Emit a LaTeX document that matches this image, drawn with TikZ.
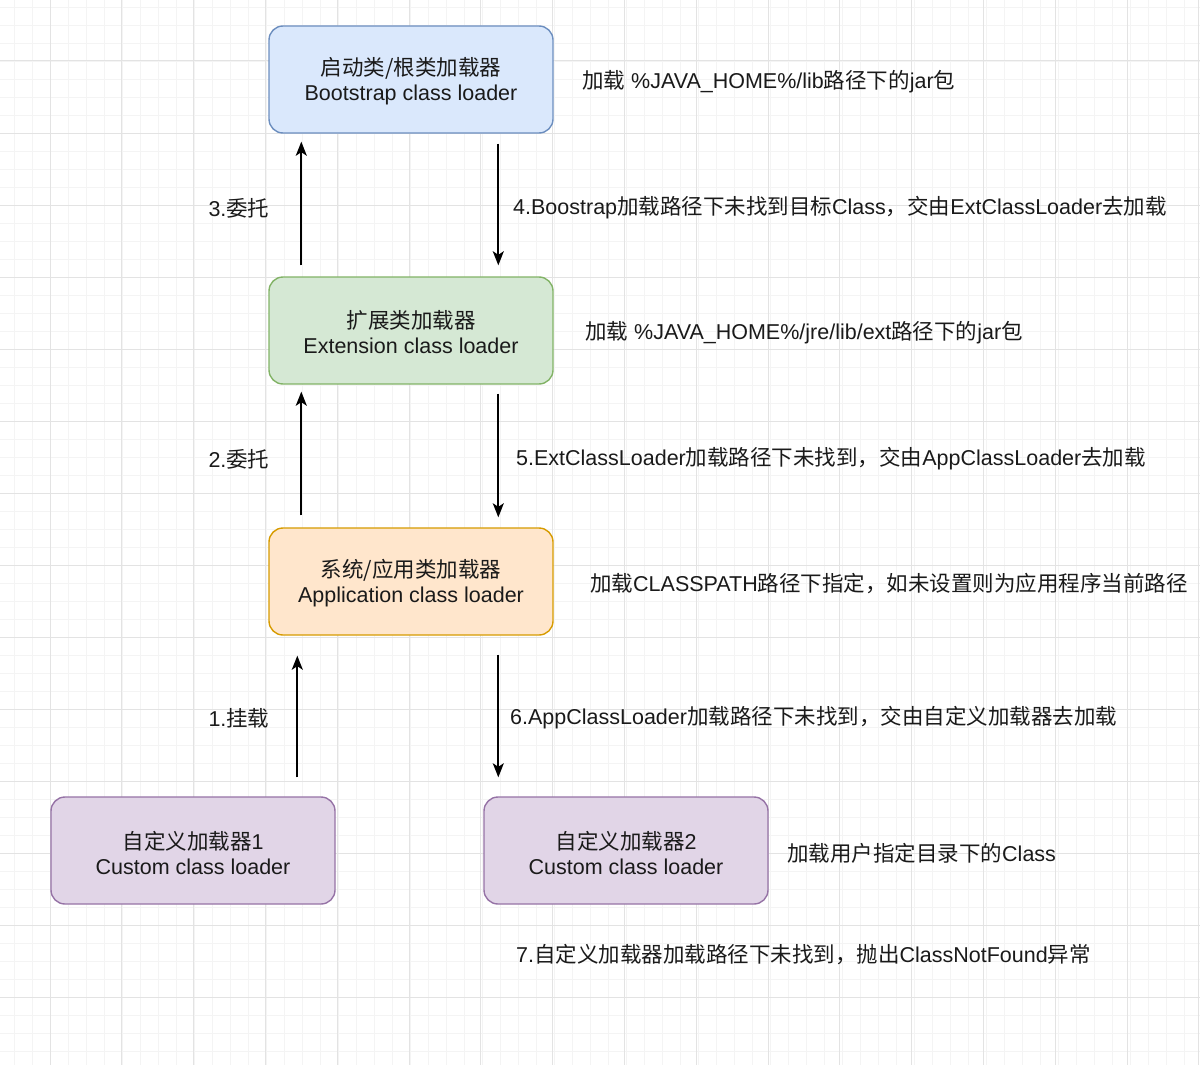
\documentclass[tikz,border=0pt]{standalone}
\usepackage{fontspec}
\setmainfont{Liberation Sans}
\newfontfamily\cjk{Noto Sans CJK SC}
\usetikzlibrary{arrows.meta,calc}
\newcommand{\zh}[1]{{\cjk #1}}
\definecolor{gridmajor}{HTML}{E3E3E3}
\definecolor{gridminor}{HTML}{F4F4F4}
\definecolor{bluef}{HTML}{DAE8FC}\definecolor{blued}{HTML}{6C8EBF}
\definecolor{greenf}{HTML}{D5E8D4}\definecolor{greend}{HTML}{82B366}
\definecolor{orangef}{HTML}{FFE6CC}\definecolor{oranged}{HTML}{D79B00}
\definecolor{purplef}{HTML}{E1D5E7}\definecolor{purpled}{HTML}{9673A6}
\definecolor{txt}{HTML}{1A1A1A}
\begin{document}
\begin{tikzpicture}[x=1pt,y=-1pt,
  every node/.style={text=txt, font=\fontsize{21.5}{25}\selectfont},
  loader/.style={draw, rounded corners=14pt, line width=1.4pt, minimum width=284pt, minimum height=107pt, inner sep=0pt},
  boxtext/.style={align=center, inner sep=0pt, yshift=-2pt},
  lbl/.style={inner sep=0pt, anchor=west},
  clbl/.style={inner sep=0pt},
  conn/.style={line width=1.9pt, -{Stealth[length=14pt,width=11pt,inset=3.5pt]}},
  minor/.style={gridminor, line width=0.8pt},
  major/.style={gridmajor, line width=1pt}]
\fill[white] (0,0) rectangle (1200,1065);
\useasboundingbox (0,0) rectangle (1200,1065);
% grid
\foreach \x in {14,32,...,1200} \draw[minor] (\x,0) -- (\x,1065);
\foreach \y in {7,25,...,1065} \draw[minor] (0,\y) -- (1200,\y);
\foreach \x in {50,121.8,...,1200} \draw[major] (\x,0) -- (\x,1065);
\foreach \y in {61,133,...,1065} \draw[major] (0,\y) -- (1200,\y);
% boxes
\node[loader, fill=bluef, draw=blued] (boot) at (411,79.5) {};
\node[boxtext] (boott) at (boot.center) {\zh{启动类/根类加载器}\\Bootstrap class loader};
\node[loader, fill=greenf, draw=greend] (ext) at (411,330.5) {};
\node[boxtext] (extt) at (ext.center) {\zh{扩展类加载器}\\Extension class loader};
\node[loader, fill=orangef, draw=oranged] (app) at (411,581.5) {};
\node[boxtext] (appt) at (app.center) {\zh{系统/应用类加载器}\\Application class loader};
\node[loader, fill=purplef, draw=purpled] (c1) at (193,850.5) {};
\node[boxtext] (c1t) at (c1.center) {\zh{自定义加载器}1\\Custom class loader};
\node[loader, fill=purplef, draw=purpled] (c2) at (626,850.5) {};
\node[boxtext] (c2t) at (c2.center) {\zh{自定义加载器}2\\Custom class loader};
% connectors
\draw[conn, shorten <=11pt, shorten >=8pt] ($(ext.north west)+(33,0)$) -- ($(boot.south west)+(33,0)$);
\draw[conn, shorten <=10pt, shorten >=11pt] ($(boot.south west)+(230,0)$) -- ($(ext.north west)+(230,0)$);
\draw[conn, shorten <=12pt, shorten >=7pt] ($(app.north west)+(33,0)$) -- ($(ext.south west)+(33,0)$);
\draw[conn, shorten <=9pt, shorten >=10pt] ($(ext.south west)+(230,0)$) -- ($(app.north west)+(230,0)$);
\draw[conn, shorten <=19pt, shorten >=20pt] ($(c1.north west)+(247,0)$) -- ($(app.south west)+(29,0)$);
\draw[conn, shorten <=19pt, shorten >=19pt] ($(app.south west)+(230,0)$) -- ($(c2.north west)+(15,0)$);
% labels
\node[clbl] (l3) at (239,208) {3.\zh{委托}};
\node[clbl] (l2) at (239,459) {2.\zh{委托}};
\node[clbl] (l1) at (239,718) {1.\zh{挂载}};
\node[lbl] (l4) at (513,208) {4.Boostrap\zh{加载路径下未找到目标}Class\zh{，交由}ExtClassLoader\zh{去加载}};
\node[lbl] (l5) at (516,459) {5.ExtClassLoader\zh{加载路径下未找到，交由}AppClassLoader\zh{去加载}};
\node[lbl] (l6) at (510,718) {6.AppClassLoader\zh{加载路径下未找到，交由自定义加载器去加载}};
\node[lbl] (l7) at (516,955) {7.\zh{自定义加载器加载路径下未找到，抛出}ClassNotFound\zh{异常}};
\node[lbl] (d1) at (582,82) {\zh{加载} \%JAVA\_HOME\%/lib\zh{路径下的}jar\zh{包}};
\node[lbl] (d2) at (585,333) {\zh{加载} \%JAVA\_HOME\%/jre/lib/ext\zh{路径下的}jar\zh{包}};
\node[lbl] (d3) at (590,584) {\zh{加载}CLASSPATH\zh{路径下指定，如未设置则为应用程序当前路径}};
\node[lbl] (d4) at (787,853) {\zh{加载用户指定目录下的}Class};
\end{tikzpicture}
\end{document}
